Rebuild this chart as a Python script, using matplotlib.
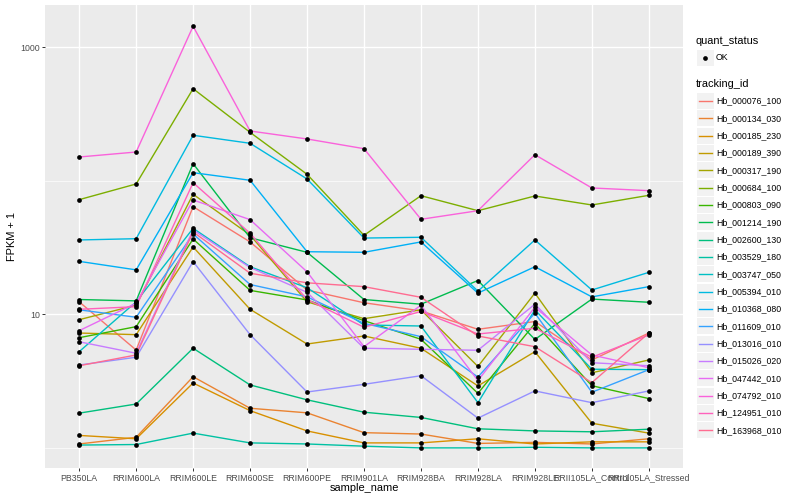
import numpy as np
import matplotlib
matplotlib.use("Agg")
import matplotlib.pyplot as plt
from matplotlib.patches import Rectangle
from matplotlib.ticker import NullFormatter, FixedLocator

plt.rcParams['font.family'] = ['Liberation Sans', 'DejaVu Sans']

samples = ["PB350LA", "RRIM600LA", "RRIM600LE", "RRIM600SE", "RRIM600PE",
           "RRIM901LA", "RRIM928BA", "RRIM928LA", "RRIM928LE",
           "RRII105LA_Control", "RRII105LA_Stressed"]

tracking_ids = ["Hb_000076_100", "Hb_000134_030", "Hb_000185_230", "Hb_000189_390",
                "Hb_000317_190", "Hb_000684_100", "Hb_000803_090", "Hb_001214_190",
                "Hb_002600_130", "Hb_003529_180", "Hb_003747_050", "Hb_005394_010",
                "Hb_010368_080", "Hb_011609_010", "Hb_013016_010", "Hb_015026_020",
                "Hb_047442_010", "Hb_074792_010", "Hb_124951_010", "Hb_163968_010"]

colors = ["#F8766D", "#EA8331", "#D89000", "#C09B00", "#A3A500", "#7CAE00",
          "#39B600", "#00BB4E", "#00BF7D", "#00C1A3", "#00BFC4", "#00BAE0",
          "#00B0F6", "#35A2FF", "#9590FF", "#C77CFF", "#E76BF3", "#FA62DB",
          "#FF62BC", "#FF6C91"]

# FPKM + 1 values, one list per tracking_id (order of samples)
hb_000076_100 = [12.4, 5.40, 63.9, 34.8, 15.2, 12.2, 10.6, 7.72, 8.83, 4.55, 7.24]
hb_000134_030 = [1.07, 1.20, 3.41, 1.98, 1.83, 1.30, 1.27, 1.08, 1.10, 1.07, 1.17]
hb_000185_230 = [1.24, 1.17, 3.06, 1.90, 1.34, 1.09, 1.09, 1.17, 1.07, 1.11, 1.11]
hb_000189_390 = [7.24, 7.04, 31.9, 10.9, 5.99, 6.88, 5.57, 2.91, 5.25, 1.53, 1.29]
hb_000317_190 = [9.11, 11.7, 79.1, 39.2, 12.4, 9.27, 10.8, 4.07, 14.4, 3.65, 4.55]
hb_000684_100 = [72.1, 94.5, 488.0, 230.0, 111.7, 39.0, 77.2, 59.6, 76.8, 65.8, 77.7]
hb_000803_090 = [6.68, 8.08, 36.6, 15.1, 12.8, 8.96, 6.50, 2.56, 8.53, 2.92, 2.34]
hb_001214_190 = [12.9, 12.6, 134.1, 37.4, 29.1, 12.9, 11.9, 17.9, 6.48, 13.0, 12.3]
hb_002600_130 = [1.82, 2.13, 5.57, 2.96, 2.29, 1.85, 1.69, 1.39, 1.34, 1.32, 1.38]
hb_003529_180 = [1.05, 1.06, 1.29, 1.09, 1.07, 1.03, 1.00, 1.00, 1.01, 1.00, 1.00]
hb_003747_050 = [5.25, 12.4, 44.0, 22.7, 15.8, 8.32, 8.17, 2.18, 10.8, 3.88, 3.85]
hb_005394_010 = [36.0, 36.8, 218.7, 190.5, 103.0, 37.2, 37.7, 14.9, 36.0, 15.2, 20.6]
hb_010368_080 = [24.9, 21.5, 114.8, 100.7, 29.4, 29.1, 34.8, 14.4, 22.7, 13.5, 16.1]
hb_011609_010 = [10.8, 9.5, 39.9, 16.7, 13.5, 8.56, 6.80, 3.39, 10.2, 2.61, 3.85]
hb_013016_010 = [4.17, 4.77, 24.8, 7.04, 2.62, 2.99, 3.47, 1.67, 2.67, 2.18, 2.67]
hb_015026_020 = [6.23, 5.11, 42.8, 22.4, 14.6, 5.57, 5.47, 5.38, 11.9, 4.34, 4.12]
hb_047442_010 = [7.54, 12.1, 71.7, 51.1, 20.8, 5.72, 11.7, 3.19, 11.3, 4.96, 3.98]
hb_074792_010 = [150.4, 163.9, 1431.0, 235.5, 205.2, 173.6, 51.4, 59.6, 156.5, 88.2, 84.2]
hb_124951_010 = [10.9, 11.4, 96.6, 40.4, 12.9, 8.0, 10.5, 7.12, 7.86, 4.77, 7.0]
hb_163968_010 = [4.12, 4.96, 41.3, 20.3, 17.2, 16.1, 13.4, 6.88, 5.72, 3.08, 7.24]

series = [hb_000076_100, hb_000134_030, hb_000185_230, hb_000189_390, hb_000317_190,
          hb_000684_100, hb_000803_090, hb_001214_190, hb_002600_130, hb_003529_180,
          hb_003747_050, hb_005394_010, hb_010368_080, hb_011609_010, hb_013016_010,
          hb_015026_020, hb_047442_010, hb_074792_010, hb_124951_010, hb_163968_010]

W, H = 800, 500
fig = plt.figure(figsize=(8, 5), dpi=100)
fig.patch.set_facecolor("white")

pl, pr, pt, pb = 45, 683, 5, 468.3
ax = fig.add_axes([pl / W, 1 - pb / H, (pr - pl) / W, (pb - pt) / H])
ax.set_facecolor("#EBEBEB")
ax.set_yscale("log")

x = np.arange(len(samples))
for vals, c in zip(series, colors):
    ax.plot(x, vals, color=c, lw=1.0, zorder=2, solid_capstyle="butt")
for vals in series:
    ax.plot(x, vals, linestyle="none", marker="o", color="black", ms=3.4,
            markeredgewidth=0, zorder=3)

ax.set_xlim(-0.6, 10.6)
ax.set_ylim(0.7035, 2065)
ax.set_xticks(x)
ax.set_xticklabels(samples)
ax.yaxis.set_major_locator(FixedLocator([10, 1000]))
ax.set_yticklabels(["10", "1000"])
ax.yaxis.set_minor_locator(FixedLocator([1, 100]))
ax.yaxis.set_minor_formatter(NullFormatter())
ax.xaxis.set_minor_locator(FixedLocator([]))

ax.grid(which="major", color="white", lw=1.0)
ax.grid(which="minor", axis="y", color="white", lw=0.5)
ax.set_axisbelow(True)
for s in ax.spines.values():
    s.set_visible(False)
ax.tick_params(which="major", length=2.0, width=0.7, color="#333333",
               labelsize=6.35, labelcolor="#4D4D4D", pad=1.8)
ax.tick_params(which="minor", length=0)

fig.text(364 / W, 1 - 488 / H, "sample_name", ha="center", va="center",
         fontsize=7.9, color="black")
fig.text(12 / W, 1 - 236.5 / H, "FPKM + 1", ha="center", va="center",
         rotation=90, fontsize=7.9, color="black")

# Legend drawn in pixel coordinates
lg = fig.add_axes([0, 0, 1, 1], facecolor="none")
lg.set_xlim(0, W)
lg.set_ylim(H, 0)
lg.axis("off")

lg.text(696, 40.5, "quant_status", ha="left", va="center", fontsize=7.9)
lg.add_patch(Rectangle((697, 49.5), 16.5, 16, facecolor="#F2F2F2", edgecolor="none"))
lg.plot([705.2], [57.5], marker="o", color="black", ms=3.4, markeredgewidth=0)
lg.text(716, 57.5, "OK", ha="left", va="center", fontsize=6.35)

lg.text(696, 84, "tracking_id", ha="left", va="center", fontsize=7.9)
for i, (tid, c) in enumerate(zip(tracking_ids, colors)):
    yc = 101 + i * 17.33
    lg.add_patch(Rectangle((697, yc - 8.0), 16.5, 16, facecolor="#F2F2F2",
                           edgecolor="none"))
    lg.plot([698.5, 712], [yc, yc], color=c, lw=1.0)
    lg.text(716, yc, tid, ha="left", va="center", fontsize=6.35)

fig.savefig("out.png", dpi=100)
